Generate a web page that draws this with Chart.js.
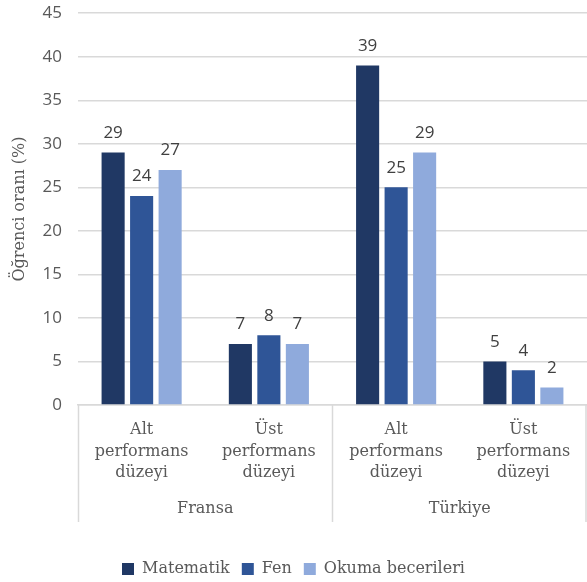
<!DOCTYPE html>
<html>
<head>
<meta charset="utf-8">
<script src="https://cdn.jsdelivr.net/npm/chart.js@4"></script>
<style>
  html, body { margin: 0; padding: 0; background: #fff; }
  #wrap { width: 587px; height: 582px; }
</style>
</head>
<body>
<div id="wrap"><canvas id="chart"></canvas></div>
<script>
// Data
const levelLabels = [
    ['Alt', 'performans', 'düzeyi'],
    ['Üst', 'performans', 'düzeyi'],
    ['Alt', 'performans', 'düzeyi'],
    ['Üst', 'performans', 'düzeyi']
];
const countryLabels = ['Fransa', 'Türkiye'];
const matematik = [29, 7, 39, 5];
const fen = [24, 8, 25, 4];
const okuma = [27, 7, 29, 2];
const yTicks = [0, 5, 10, 15, 20, 25, 30, 35, 40, 45];

const serif = "'DejaVu Serif', serif";
const sans = "'Open Sans', 'Noto Sans', sans-serif";
const textColor = '#595959';
const lineColor = '#d9d9d9';

// value labels above the bars
const barLabels = {
    id: 'barLabels',
    afterDatasetsDraw(chart) {
        const ctx = chart.ctx;
        ctx.save();
        ctx.font = '17px ' + sans;
        ctx.fillStyle = '#404040';
        ctx.textAlign = 'center';
        ctx.textBaseline = 'bottom';
        chart.data.datasets.forEach((ds, i) => {
            chart.getDatasetMeta(i).data.forEach((bar, j) => {
                ctx.fillText(ds.data[j], bar.x, bar.y - 11);
            });
        });
        ctx.restore();
    }
};

// vertical separators between the country groups
const groupLines = {
    id: 'groupLines',
    afterDraw(chart) {
        const x = chart.scales.x;
        const x2 = chart.scales.x2;
        const ctx = chart.ctx;
        const mid = (x.getPixelForValue(1) + x.getPixelForValue(2)) / 2;
        const top = x.top;
        const bottom = x2.top + 31;
        ctx.save();
        ctx.strokeStyle = lineColor;
        ctx.lineWidth = 1.5;
        [x.left + 0.5, mid, x.right - 1].forEach(px => {
            ctx.beginPath();
            ctx.moveTo(px, top);
            ctx.lineTo(px, bottom);
            ctx.stroke();
        });
        ctx.restore();
    }
};

new Chart(document.getElementById('chart'), {
    type: 'bar',
    data: {
        labels: levelLabels,
        datasets: [{
            label: 'Matematik',
            data: matematik,
            backgroundColor: '#203864',
            xAxisID: 'x'
        }, {
            label: 'Fen',
            data: fen,
            backgroundColor: '#2f5597',
            xAxisID: 'x'
        }, {
            label: 'Okuma becerileri',
            data: okuma,
            backgroundColor: '#8faadc',
            xAxisID: 'x'
        }]
    },
    options: {
        responsive: true,
        maintainAspectRatio: false,
        animation: false,
        layout: { padding: { top: 0, right: 0, bottom: -5, left: 0 } },
        datasets: {
            bar: { categoryPercentage: 0.672, barPercentage: 0.81 }
        },
        plugins: {
            legend: {
                position: 'bottom',
                labels: {
                    boxWidth: 12,
                    boxHeight: 12,
                    padding: 12,
                    color: textColor,
                    font: { family: serif, size: 16 }
                }
            },
            tooltip: { enabled: false }
        },
        scales: {
            y: {
                min: 0,
                max: 45,
                afterBuildTicks: scale => { scale.ticks = yTicks.map(v => ({ value: v })); },
                afterFit: scale => { scale.width = 78; },
                grid: { color: lineColor, lineWidth: 1.5, drawTicks: true, tickLength: 13, tickColor: 'rgba(0,0,0,0)' },
                border: { display: false },
                ticks: {
                    color: textColor,
                    padding: 3,
                    font: { family: sans, size: 17 }
                },
                title: {
                    display: true,
                    text: 'Öğrenci oranı (%)',
                    color: textColor,
                    padding: { top: 10, bottom: 0 },
                    font: { family: serif, size: 16 }
                }
            },
            x: {
                position: 'bottom',
                weight: 0,
                afterFit: scale => { scale.height = 86; },
                grid: { display: false },
                border: { display: true, color: lineColor, width: 1.5 },
                ticks: {
                    color: textColor,
                    padding: 6,
                    maxRotation: 0,
                    autoSkip: false,
                    font: { family: serif, size: 16, lineHeight: 1.35 }
                }
            },
            x2: {
                type: 'category',
                position: 'bottom',
                weight: 1,
                labels: countryLabels,
                offset: true,
                afterFit: scale => { scale.height = 58; },
                grid: { display: false },
                border: { display: false },
                ticks: {
                    color: textColor,
                    padding: 0,
                    maxRotation: 0,
                    font: { family: serif, size: 16 }
                }
            }
        }
    },
    plugins: [barLabels, groupLines]
});
</script>
</body>
</html>
